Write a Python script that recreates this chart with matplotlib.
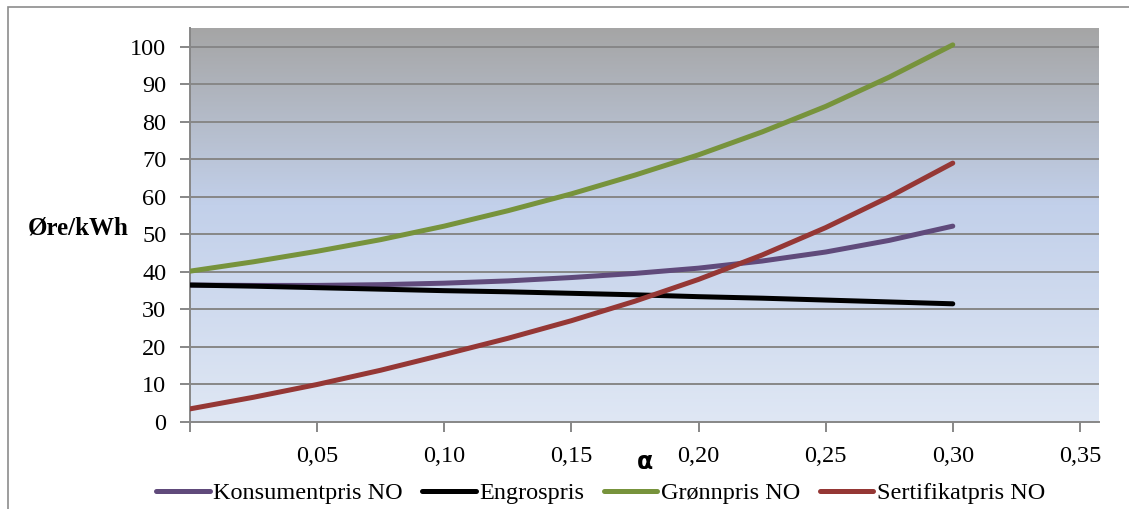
import matplotlib.pyplot as plt
import numpy as np
from matplotlib.colors import LinearSegmentedColormap
from matplotlib.patches import Rectangle

# alpha values and prices (øre/kWh)
alpha = [0.0, 0.025, 0.05, 0.075, 0.10, 0.125, 0.15, 0.175, 0.20, 0.225, 0.25, 0.275, 0.30]
konsument = [36.5, 36.4, 36.4, 36.6, 37.0, 37.6, 38.5, 39.6, 41.0, 42.9, 45.3, 48.4, 52.2]
engros = [36.5, 36.2, 35.8, 35.4, 35.0, 34.7, 34.3, 33.9, 33.4, 33.0, 32.5, 32.0, 31.5]
gronn = [40.2, 42.7, 45.5, 48.6, 52.2, 56.3, 60.8, 65.8, 71.2, 77.3, 84.1, 91.9, 100.5]
sertifikat = [3.5, 6.6, 10.0, 13.8, 18.0, 22.3, 27.0, 32.2, 38.0, 44.5, 51.8, 60.0, 69.0]

names = ["Konsumentpris NO", "Engrospris", "Grønnpris NO", "Sertifikatpris NO"]
colors = ["#604a7b", "#000000", "#77933c", "#953735"]

plt.rcParams['font.family'] = ['Liberation Serif', 'DejaVu Serif']

fig = plt.figure(figsize=(11.29, 5.09), dpi=100)
ax = fig.add_axes([0.1683, 0.1709, 0.8051, 0.7741])

# outer chart border
fig.patches.append(Rectangle((8 / 1129, -0.01), 1.05, 1 - 7 / 509 + 0.01,
                             transform=fig.transFigure, fill=False,
                             edgecolor="#8c8c8c", linewidth=1.2))

# gradient background
cmap = LinearSegmentedColormap.from_list(
    "bg", [(0.0, "#dfe7f4"), (0.55, "#c2d0ea"), (1.0, "#a5a5a5")])
grad = np.linspace(0, 1, 256).reshape(-1, 1)
xmax = 0.3575
ymax = 105
ax.imshow(grad, cmap=cmap, origin="lower", aspect="auto",
          extent=[0, xmax, 0, ymax], zorder=0)

for y in range(10, 101, 10):
    ax.axhline(y, color="#878787", linewidth=1.4, zorder=1)

series = [konsument, engros, gronn, sertifikat]
for vals, name, c in zip(series, names, colors):
    ax.plot(alpha, vals, color=c, linewidth=3.6, label=name,
            solid_capstyle="round", zorder=3)

ax.set_xlim(0, xmax)
ax.set_ylim(0, ymax)
ax.set_yticks(range(0, 101, 10))
ax.set_xticks(np.arange(0, 0.351, 0.05))
ax.set_xticklabels([""] + ["0,05", "0,10", "0,15", "0,20", "0,25", "0,30", "0,35"])

for s in ["top", "right"]:
    ax.spines[s].set_visible(False)
for s in ["left", "bottom"]:
    ax.spines[s].set_color("#878787")
    ax.spines[s].set_linewidth(1.4)
ax.tick_params(axis="both", colors="#878787", width=1.4, length=7,
               labelcolor="black", labelsize=17.5)
ax.tick_params(axis="x", pad=10)
ax.tick_params(axis="y", pad=10)

fig.text(28 / 1129, 1 - 228 / 509, "Øre/kWh", fontsize=18, fontweight="bold",
         va="center", ha="left")
fig.text(645 / 1129, 1 - 462 / 509, "α", fontsize=17, fontweight="bold",
         va="center", ha="center", family="DejaVu Sans")

fig.legend(loc="center", bbox_to_anchor=(0.532, 1 - 493 / 509), ncol=4,
           frameon=False, fontsize=17.5, handlelength=2.2, handletextpad=0.15,
           columnspacing=0.8)

fig.savefig("out.png", dpi=100)
